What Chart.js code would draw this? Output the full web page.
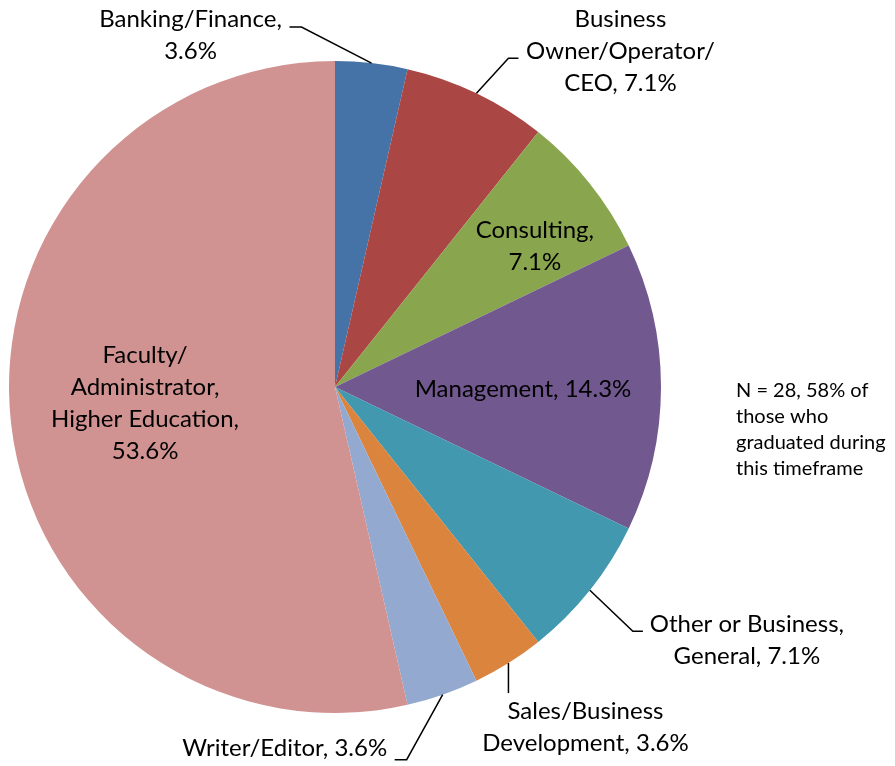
<!DOCTYPE html>
<html>
<head>
<meta charset="utf-8">
<script src="https://cdn.jsdelivr.net/npm/chart.js@4.4.1/dist/chart.umd.min.js"></script>
<style>
  html, body { margin: 0; padding: 0; background: #fff; }
  #wrap { width: 895px; height: 766px; position: relative; }
</style>
</head>
<body>
<div id="wrap"><canvas id="pie"></canvas></div>
<script>
// data
const categories = [
  "Banking/Finance", "Business Owner/Operator/CEO", "Consulting", "Management",
  "Other or Business, General", "Sales/Business Development", "Writer/Editor",
  "Faculty/Administrator, Higher Education"
];
const counts = [1, 2, 2, 4, 2, 1, 1, 15];
const percents = ["3.6%", "7.1%", "7.1%", "14.3%", "7.1%", "3.6%", "3.6%", "53.6%"];
const labelLines = [
  ["Banking/Finance,", "3.6%"],
  ["Business", "Owner/Operator/", "CEO, 7.1%"],
  ["Consulting,", "7.1%"],
  ["Management, 14.3%"],
  ["Other or Business,", "General, 7.1%"],
  ["Sales/Business", "Development, 3.6%"],
  ["Writer/Editor, 3.6%"],
  ["Faculty/", "Administrator,", "Higher Education,", "53.6%"]
];
const noteLines = ["N = 28, 58% of", "those who", "graduated during", "this timeframe"];

const colors = ['#4572A7', '#AA4643', '#89A54E', '#71588F', '#4198AF', '#DB843D', '#93A9CF', '#D19392'];

// label placement relative to the slice's outer mid point (text = block centre, lead = leader elbows)
const labelLayout = [
  { text: [-181, -28], lead: [[-70, -36], [-82, -36]] },
  { text: [144, -42], lead: [[32, -35], [42, -35]] },
  { text: [-55, 63] },
  { text: [-138, 2] },
  { text: [157, 50], lead: [[43, 41], [53, 41]] },
  { text: [77, 64], lead: [[0, 30]] },
  { text: [-158, 54], lead: [[-36, 65], [-48, 65]] },
  { text: [134, -20] }
];

const FONT = '24px Lato, "Open Sans", sans-serif';

const labelPlugin = {
  id: 'pieLabels',
  afterDatasetsDraw(chart) {
    const ctx = chart.ctx;
    const arcs = chart.getDatasetMeta(0).data;
    ctx.save();
    arcs.forEach((arc, i) => {
      const p = arc.getProps(['x', 'y', 'startAngle', 'endAngle', 'outerRadius'], true);
      const mid = (p.startAngle + p.endAngle) / 2;
      const ax = p.x + Math.cos(mid) * p.outerRadius;
      const ay = p.y + Math.sin(mid) * p.outerRadius;
      const lay = labelLayout[i];
      if (lay.lead) {
        ctx.strokeStyle = '#000';
        ctx.lineWidth = 1.5;
        ctx.beginPath();
        ctx.moveTo(ax, ay);
        lay.lead.forEach(pt => ctx.lineTo(ax + pt[0], ay + pt[1]));
        ctx.stroke();
      }
      const lines = labelLines[i];
      const lh = 32;
      const cx = ax + lay.text[0];
      const cy = ay + lay.text[1];
      ctx.fillStyle = '#000';
      ctx.font = FONT;
      ctx.textAlign = 'center';
      ctx.textBaseline = 'middle';
      lines.forEach((ln, k) => {
        ctx.fillText(ln, cx, cy + (k - (lines.length - 1) / 2) * lh);
      });
    });
    // note
    const area = chart.chartArea;
    ctx.font = '20px Lato, "Open Sans", sans-serif';
    ctx.textAlign = 'left';
    ctx.textBaseline = 'middle';
    const midY = (area.top + area.bottom) / 2;
    noteLines.forEach((ln, k) => {
      ctx.fillText(ln, area.right + 75, midY + 4 + k * 26);
    });
    ctx.restore();
  }
};

new Chart(document.getElementById('pie'), {
  type: 'pie',
  data: {
    labels: categories,
    datasets: [{
      data: counts,
      backgroundColor: colors,
      borderWidth: 0
    }]
  },
  options: {
    responsive: true,
    maintainAspectRatio: false,
    animation: false,
    layout: { padding: { left: 9, right: 234, top: 61, bottom: 53 } },
    plugins: {
      legend: { display: false },
      tooltip: { enabled: false }
    }
  },
  plugins: [labelPlugin]
});
</script>
</body>
</html>
